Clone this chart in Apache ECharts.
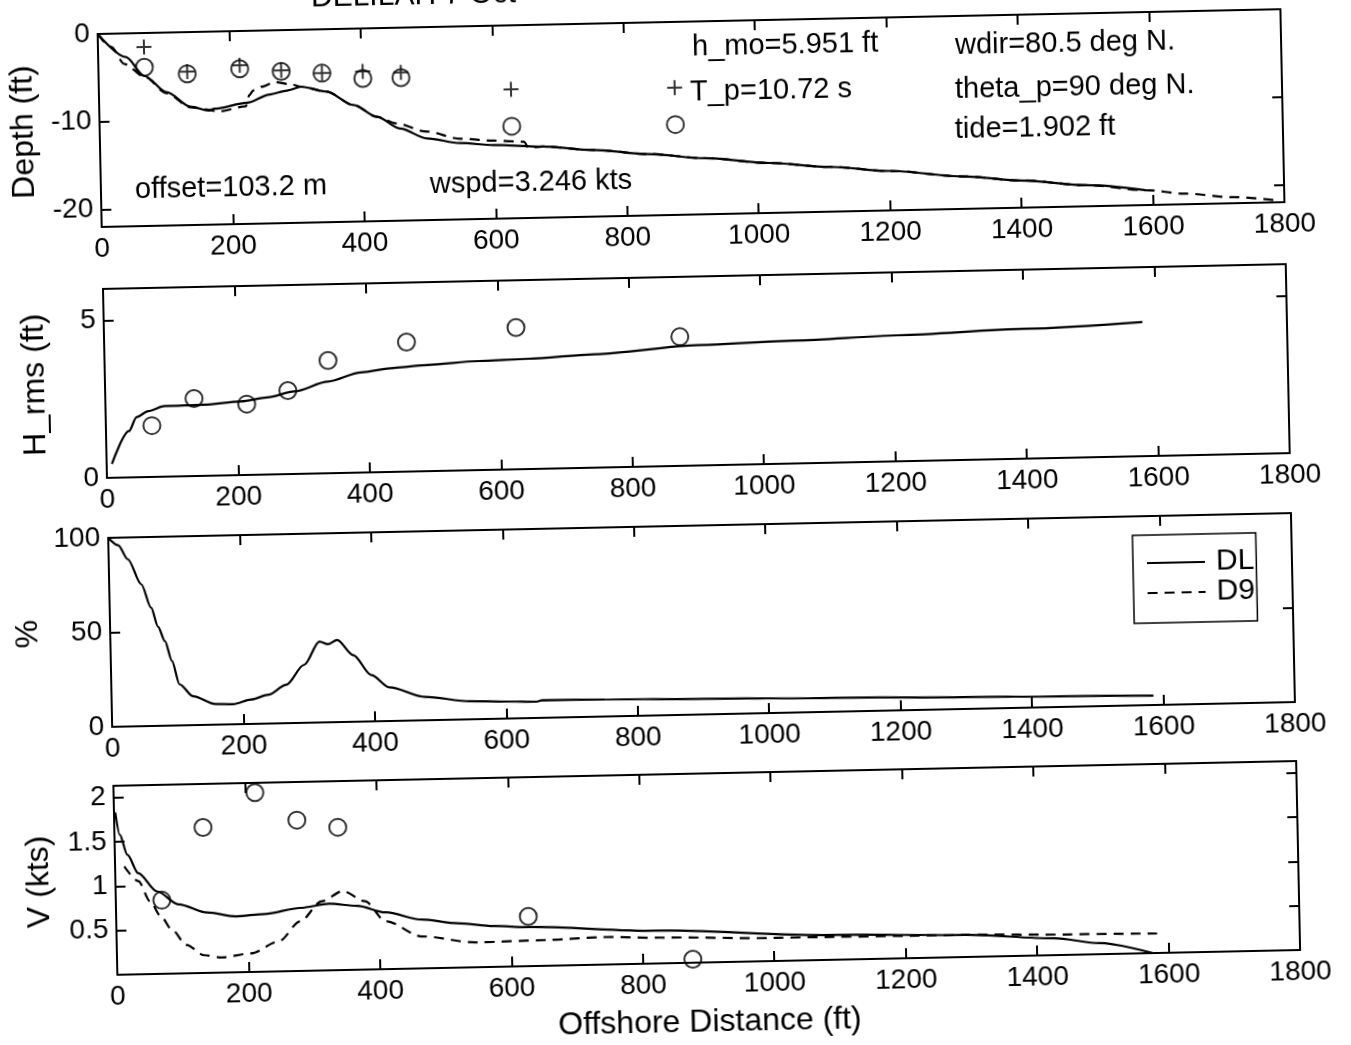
<!DOCTYPE html>
<html>
<head>
<meta charset="utf-8">
<script src="https://cdn.jsdelivr.net/npm/echarts@6/dist/echarts.min.js"></script>
<style>
  html, body { margin: 0; padding: 0; background: #fff; overflow: hidden; width: 1351px; height: 1045px; }
  /* the sheet sits slightly tilted on the page */
  #chart { position: absolute; left: -40px; top: -40px; width: 1431px; height: 1125px;
           transform-origin: 715px 562px; transform: rotate(-1.2deg); background: #fff; }
</style>
</head>
<body>
<div id="chart"></div>
<script>
// ---- cross-shore stations (ft) and measurements ----
const stations      = [70, 135, 215, 278, 340, 402, 460, 627, 876];
const depthCircle   = [-3.9, -4.75, -4.3, -4.7, -5.0, -5.7, -5.7, -11.5, -11.7];
const depthPlus     = [-1.6, -4.5, -3.9, -4.6, -5.0, -4.9, -5.1, -7.3, -7.5];

const hrmsStations  = [70, 135, 215, 278, 340, 460, 627, 876];
const hrmsMeasured  = [1.63, 2.46, 2.25, 2.65, 3.58, 4.11, 4.5, 4.1];

const vStations     = [70, 135, 215, 278, 340, 627, 876];
const vMeasured     = [0.83, 1.64, 2.02, 1.70, 1.61, 0.56, 0.04];

// ---- bottom profiles (distance ft, depth ft) ----
const depthDL = [[0,0],[42,-2.7],[70,-4.9],[103,-6.8],[139,-8.5],[167,-9.0],[175,-8.8],[225,-8.2],
  [260,-7.3],[286,-6.9],[308,-6.5],[346,-7.1],[387,-8.7],[422,-10.1],[457,-11.5],[498,-12.7],
  [548,-13.3],[599,-13.6],[674,-13.9],[750,-14.4],[834,-15.0],[920,-15.6],[1017,-16.3],
  [1110,-16.9],[1200,-17.5],[1313,-18.3],[1400,-18.9],[1500,-19.6],[1589,-20.3]];
const depthD9 = [[0,0],[20,-1.5],[40,-3.5],[70,-5.0],[103,-6.9],[139,-8.6],[184,-9.1],[223,-8.6],
  [229,-7.3],[235,-6.8],[248,-6.4],[268,-5.9],[293,-6.2],[308,-6.5],[346,-7.1],[387,-8.7],
  [422,-10.1],[451,-10.9],[497,-11.9],[548,-12.8],[599,-13.1],[645,-13.3],[652,-14.0],
  [674,-13.9],[750,-14.4],[834,-15.0],[920,-15.6],[1017,-16.3],[1110,-16.9],[1200,-17.5],
  [1313,-18.3],[1400,-18.9],[1500,-19.6],[1589,-20.3],[1650,-20.8],[1720,-21.3],[1790,-21.8]];

// ---- modelled rms wave height (ft) ----
const hrmsDL = [[8,0.44],[35,1.47],[47,1.91],[65,2.09],[90,2.24],[150,2.26],[206,2.34],[247,2.45],
  [288,2.62],[339,2.91],[390,3.18],[440,3.30],[491,3.37],[568,3.46],[645,3.50],[746,3.60],
  [904,3.82],[1050,3.90],[1208,4.00],[1400,4.12],[1580,4.26]];

// ---- percentage (%) ----
const pctDL = [[0,100],[15,96],[29,88.5],[49,75],[63,62.6],[73,52.5],[83,44.8],[93,34.2],[104,21.7],
  [124,15.3],[158,10.9],[185,10.7],[212,12.9],[239,15.3],[266,20.3],[294,30.7],[318,42.8],
  [331,41.3],[345,43.5],[369,35.3],[396,24.5],[423,17.8],[477,12.4],[545,9.6],[600,9.0],
  [647,8.6],[655,9.3],[750,9.0],[898,8.3],[1100,7.3],[1300,6.3],[1450,5.6],[1585,5.0]];

// ---- longshore current (kts) ----
const vDL = [[2,1.83],[8,1.58],[19,1.35],[35,1.14],[63,0.93],[95,0.78],[139,0.68],[182,0.63],
  [226,0.65],[280,0.71],[324,0.75],[367,0.72],[410,0.64],[465,0.55],[519,0.50],[574,0.46],
  [628,0.44],[820,0.37],[1086,0.28],[1291,0.25],[1426,0.19],[1495,0.125],[1576,0.0]];
const vD9 = [[14,1.22],[35,1.05],[52,0.82],[68,0.65],[84,0.50],[106,0.32],[133,0.20],[160,0.17],
  [204,0.21],[247,0.34],[280,0.56],[313,0.78],[346,0.89],[379,0.77],[410,0.54],[465,0.36],
  [546,0.28],[655,0.29],[737,0.31],[828,0.29],[1000,0.26],[1291,0.25],[1450,0.23],[1583,0.22]];

// ---- axis settings ----
const xRange   = [0, 1800];
const xStep    = 200;
const yRanges  = [[-22, 0], [0, 6], [0, 100], [0, 2.13]];
const yTicks   = [[-20, -10, 0], [0, 5], [0, 50, 100], [0.5, 1, 1.5, 2]];
const yNames   = ['Depth (ft)', 'H_rms (ft)', '%', 'V (kts)'];
const xName    = 'Offshore Distance (ft)';

const FONT = '"Liberation Sans", Arial, Helvetica, sans-serif';
const INK = '#000';
const panels = [
  { top: 62,  height: 193, nameGap: 56 },
  { top: 317, height: 189, nameGap: 54 },
  { top: 566, height: 189, nameGap: 64 },
  { top: 814, height: 189, nameGap: 60 }
];
const LEFT = 148, WIDTH = 1183;
const plain = v => String(v);

const grid = [], xAxis = [], yAxis = [];
panels.forEach((p, i) => {
  grid.push({ left: LEFT, top: p.top, width: WIDTH, height: p.height, show: false });
  const axisLine = { show: true, onZero: false, lineStyle: { color: INK, width: 2 } };
  const tick = { show: true, inside: true, length: 10, lineStyle: { color: INK, width: 2 } };
  xAxis.push({
    type: 'value', gridIndex: i, position: 'bottom', min: xRange[0], max: xRange[1], interval: xStep,
    axisLine, axisTick: tick, splitLine: { show: false },
    axisLabel: { fontSize: 28, fontFamily: FONT, color: INK, margin: 8, formatter: plain },
    name: i === 3 ? xName : '', nameLocation: 'middle', nameGap: 44,
    nameTextStyle: { fontSize: 32, fontFamily: FONT, color: INK }
  });
  xAxis.push({
    type: 'value', gridIndex: i, position: 'top', min: xRange[0], max: xRange[1], interval: xStep,
    axisLine, axisTick: tick, splitLine: { show: false }, axisLabel: { show: false }
  });
  yAxis.push({
    type: 'value', gridIndex: i, position: 'left', min: yRanges[i][0], max: yRanges[i][1],
    axisLine, splitLine: { show: false },
    axisTick: Object.assign({ customValues: yTicks[i] }, tick),
    axisLabel: { customValues: yTicks[i], fontSize: 28, fontFamily: FONT, color: INK, margin: 8, formatter: plain },
    name: yNames[i], nameLocation: 'middle', nameGap: p.nameGap, nameRotate: 90,
    nameTextStyle: { fontSize: 32, fontFamily: FONT, color: INK }
  });
  yAxis.push({
    type: 'value', gridIndex: i, position: 'right', min: yRanges[i][0], max: yRanges[i][1],
    axisLine, splitLine: { show: false },
    axisTick: Object.assign({ customValues: yTicks[i] }, tick),
    axisLabel: { show: false }
  });
});

const solid = { color: INK, width: 2.2, type: 'solid' };
const dashed = { color: INK, width: 2.2, type: [10, 7] };
function line(name, data, i, style) {
  return { type: 'line', name, data, xAxisIndex: 2 * i, yAxisIndex: 2 * i,
           symbol: 'none', showSymbol: false, smooth: 0.3, smoothMonotone: 'x',
           lineStyle: style, itemStyle: { color: INK }, silent: true, z: 3 };
}
function marks(name, xs, ys, i, symbol, size) {
  return { type: 'scatter', name, data: xs.map((x, k) => [x, ys[k]]), xAxisIndex: 2 * i, yAxisIndex: 2 * i,
           symbol, symbolSize: size, silent: true, z: 4,
           itemStyle: { color: 'rgba(0,0,0,0)', borderColor: INK, borderWidth: 2 } };
}
const CROSS = 'path://M0,-8L0,8M-8,0L8,0';

const series = [
  line('DL', depthDL, 0, solid),
  line('D9', depthD9, 0, dashed),
  marks('depth o', stations, depthCircle, 0, 'circle', 17),
  marks('depth +', stations, depthPlus, 0, CROSS, 15),
  line('DL', hrmsDL, 1, solid),
  marks('hrms o', hrmsStations, hrmsMeasured, 1, 'circle', 17),
  line('DL', pctDL, 2, solid),
  line('DL', vDL, 3, solid),
  line('D9', vD9, 3, dashed),
  marks('v o', vStations, vMeasured, 3, 'circle', 17)
];

function note(text, x, y, size) {
  return { type: 'text', x, y, silent: true,
           style: { text, fontSize: size || 29, fontFamily: FONT, fill: INK, verticalAlign: 'middle' } };
}

const option = {
  animation: false,
  backgroundColor: '#fff',
  textStyle: { fontFamily: FONT, color: INK },
  grid, xAxis, yAxis, series,
  legend: {
    data: ['DL', 'D9'], orient: 'vertical', left: 1172, top: 585,
    itemGap: 0, itemWidth: 58, itemHeight: 14, selectedMode: false,
    itemStyle: { opacity: 0, borderWidth: 0 },
    padding: [13, 2, 15, 13], borderColor: INK, borderWidth: 1.5, backgroundColor: '#fff',
    textStyle: { fontSize: 30, lineHeight: 24, fontFamily: FONT, color: INK, padding: [0, 0, 0, 6] }
  },
  graphic: [
    { type: 'text', x: 362, y: 46, silent: true,
      style: { text: 'DELILAH 7 Oct', fontSize: 30, fontFamily: FONT, fill: INK, verticalAlign: 'bottom' } },
    note('h_mo=5.951 ft', 742, 87.5),
    note('T_p=10.72 s', 739, 132.5),
    note('wdir=80.5 deg N.', 1005, 92.4),
    note('theta_p=90 deg N.', 1004, 136.3),
    note('tide=1.902 ft', 1003, 175.7),
    note('offset=103.2 m', 182, 218.9),
    note('wspd=3.246 kts', 477, 220.2)
  ]
};

const chart = echarts.init(document.getElementById('chart'), null, { renderer: 'canvas' });
chart.setOption(option);
</script>
</body>
</html>
